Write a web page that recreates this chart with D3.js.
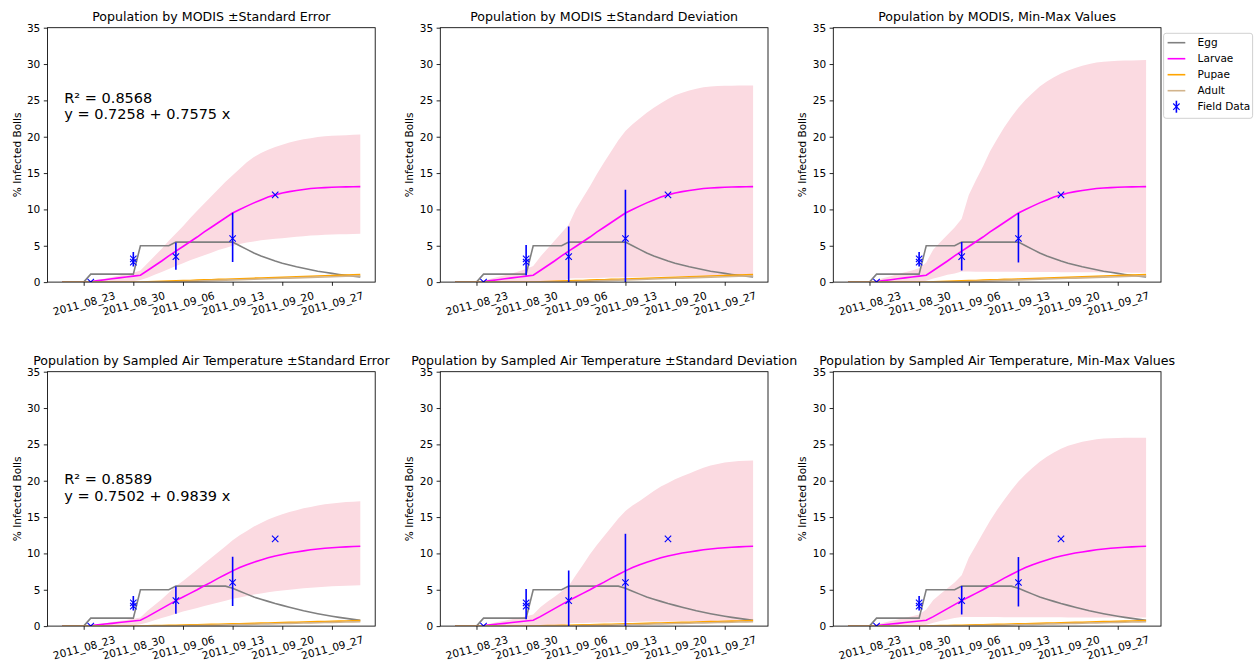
<!DOCTYPE html>
<html lang="en">
<head>
  <meta charset="UTF-8">
  <title>Population by MODIS / Sampled Air Temperature</title>
  <style>
    body {
      margin: 0;
      background: #fff;
      font-family: 'DejaVu Sans', sans-serif;
    }
    svg { display: block; }
    .tick text { fill: #000; }
  </style>
  <script src="https://d3js.org/d3.v7.min.js"></script>
</head>
<body>
  <svg></svg>

  <script>
    // one model value per day, 2011-08-20 .. 2011-10-01
    const startDay = "2011-08-20";
    const endDay = "2011-10-01";

    const tickDates = ["2011-08-23", "2011-08-30", "2011-09-06", "2011-09-13", "2011-09-20", "2011-09-27"];
    const tickLabels = ["2011_08_23", "2011_08_30", "2011_09_06", "2011_09_13", "2011_09_20", "2011_09_27"];
    const yTicks = [0, 5, 10, 15, 20, 25, 30, 35];

    // MODIS driven model
    const eggModis = [0, 0, 0, 0, 1.1, 1.1, 1.1, 1.1, 1.1, 1.1, 1.1, 5.0, 5.0, 5.0, 5.0, 5.0, 5.5, 5.5, 5.5, 5.5, 5.5, 5.5, 5.5, 5.5, 5.5,
      5.0, 4.5, 4.0, 3.6, 3.25, 2.9, 2.6, 2.35, 2.1, 1.9, 1.7, 1.5, 1.35, 1.2, 1.05, 0.92, 0.8, 0.7];
    const larvaeModis = [0, 0, 0, 0.02, 0.08, 0.2, 0.32, 0.45, 0.58, 0.7, 0.82, 0.95, 1.6, 2.25, 2.9, 3.6, 4.25, 4.9, 5.55, 6.2, 6.9,
      7.55, 8.2, 8.85, 9.5, 10.0, 10.45, 10.9, 11.3, 11.7, 12.0, 12.25, 12.45, 12.6, 12.75, 12.87, 12.95, 13.0, 13.05, 13.08, 13.1, 13.12, 13.13];
    const pupaeModis = [0, 0, 0, 0, 0, 0, 0, 0, 0, 0, 0, 0.02, 0.05, 0.08, 0.11, 0.14, 0.17, 0.2, 0.23, 0.27, 0.3,
      0.33, 0.37, 0.4, 0.43, 0.47, 0.5, 0.54, 0.57, 0.6, 0.64, 0.67, 0.71, 0.74, 0.77, 0.8, 0.84, 0.87, 0.9, 0.94, 0.97, 1.0, 1.03];
    const adultModis = [0, 0, 0, 0, 0, 0, 0, 0, 0, 0, 0, 0, 0, 0, 0, 0.02, 0.05, 0.08, 0.11, 0.14, 0.17,
      0.2, 0.24, 0.27, 0.3, 0.33, 0.36, 0.4, 0.43, 0.46, 0.49, 0.52, 0.55, 0.58, 0.62, 0.65, 0.68, 0.71, 0.74, 0.77, 0.8, 0.83, 0.86];

    const seUpperModis = [0, 0, 0, 0.03, 0.12, 0.3, 0.5, 0.7, 0.9, 1.1, 1.3, 1.6, 2.6, 3.6, 4.6, 5.7, 6.7, 7.7, 8.8, 9.8, 10.8,
      11.8, 12.8, 13.8, 14.7, 15.6, 16.5, 17.2, 17.75, 18.2, 18.6, 18.9, 19.2, 19.45, 19.65, 19.8, 19.95, 20.05, 20.12, 20.18, 20.22, 20.26, 20.3];
    const seLowerModis = [0, 0, 0, 0, 0, 0, 0, 0, 0, 0, 0.1, 0.3, 0.6, 1.0, 1.4, 1.8, 2.2, 2.6, 3.0, 3.35, 3.7,
      4.05, 4.4, 4.7, 5.0, 5.25, 5.45, 5.6, 5.75, 5.85, 5.95, 6.05, 6.15, 6.25, 6.3, 6.4, 6.45, 6.5, 6.55, 6.58, 6.6, 6.62, 6.64];
    const sdUpperModis = [0, 0, 0, 0.05, 0.2, 0.45, 0.7, 0.95, 1.2, 1.5, 1.8, 2.2, 3.5, 4.6, 5.7, 6.8, 7.9, 10.0, 11.6, 13.2, 14.9,
      16.5, 18.0, 19.5, 20.8, 21.7, 22.5, 23.3, 24.0, 24.6, 25.2, 25.7, 26.05, 26.35, 26.6, 26.8, 26.9, 26.97, 27.0, 27.02, 27.04, 27.05, 27.05];
    const sdLowerModis = [0, 0, 0, 0, 0, 0, 0, 0, 0, 0, 0, 0, 0, 0, 0, 0, 0.5, 0.52, 0.54, 0.56, 0.58,
      0.6, 0.62, 0.64, 0.66, 0.68, 0.7, 0.72, 0.74, 0.76, 0.78, 0.8, 0.82, 0.84, 0.86, 0.87, 0.88, 0.89, 0.9, 0.91, 0.92, 0.93, 0.94];
    const mmUpperModis = [0, 0, 0, 0.05, 0.3, 0.55, 0.8, 1.1, 1.35, 1.6, 1.9, 2.7, 4.5, 5.5, 6.5, 7.5, 8.7, 12.0, 14.0, 15.9, 18.0,
      19.7, 21.3, 22.7, 24.0, 25.1, 26.0, 26.9, 27.6, 28.2, 28.7, 29.1, 29.45, 29.75, 30.0, 30.2, 30.3, 30.4, 30.45, 30.5, 30.5, 30.52, 30.55];
    const mmLowerModis = [0, 0, 0, 0, 0, 0, 0, 0, 0, 0, 0, 0.2, 0.5, 0.75, 1.0, 1.2, 1.45, 1.45, 1.44, 1.44, 1.43,
      1.43, 1.42, 1.42, 1.41, 1.4, 1.4, 1.39, 1.38, 1.38, 1.37, 1.36, 1.36, 1.35, 1.34, 1.34, 1.33, 1.32, 1.32, 1.31, 1.3, 1.3, 1.3];

    // sampled air temperature driven model
    const eggAir = [0, 0, 0, 0, 1.1, 1.1, 1.1, 1.1, 1.1, 1.1, 1.1, 5.0, 5.0, 5.0, 5.0, 5.0, 5.5, 5.5, 5.5, 5.5, 5.5, 5.5, 5.5, 5.5,
      5.2, 4.8, 4.4, 4.0, 3.7, 3.4, 3.1, 2.85, 2.6, 2.35, 2.1, 1.9, 1.7, 1.52, 1.36, 1.2, 1.06, 0.92, 0.8];
    const larvaeAir = [0, 0, 0, 0.02, 0.07, 0.17, 0.28, 0.38, 0.5, 0.6, 0.7, 0.8, 1.3, 1.85, 2.4, 2.95, 3.5, 4.0, 4.5, 5.0, 5.55,
      6.05, 6.6, 7.1, 7.6, 8.05, 8.45, 8.8, 9.1, 9.4, 9.65, 9.85, 10.05, 10.2, 10.35, 10.5, 10.6, 10.7, 10.78, 10.85, 10.9, 10.95, 10.98];
    const pupaeAir = [0, 0, 0, 0, 0, 0, 0, 0, 0, 0, 0, 0.02, 0.04, 0.06, 0.08, 0.1, 0.12, 0.14, 0.17, 0.19, 0.21,
      0.24, 0.26, 0.28, 0.31, 0.33, 0.36, 0.38, 0.41, 0.43, 0.46, 0.48, 0.51, 0.53, 0.56, 0.58, 0.61, 0.63, 0.66, 0.68, 0.71, 0.73, 0.76];
    const adultAir = [0, 0, 0, 0, 0, 0, 0, 0, 0, 0, 0, 0, 0, 0, 0, 0, 0.02, 0.04, 0.06, 0.08, 0.1,
      0.12, 0.14, 0.17, 0.19, 0.21, 0.23, 0.26, 0.28, 0.3, 0.32, 0.35, 0.37, 0.39, 0.42, 0.44, 0.46, 0.49, 0.51, 0.53, 0.56, 0.58, 0.6];

    const seUpperAir = [0, 0, 0, 0.03, 0.1, 0.25, 0.4, 0.55, 0.7, 0.85, 1.0, 1.2, 2.1, 2.9, 3.7, 4.6, 5.5, 6.2, 7.0, 7.8, 8.6,
      9.4, 10.2, 11.0, 11.8, 12.5, 13.1, 13.7, 14.2, 14.65, 15.05, 15.4, 15.7, 15.95, 16.2, 16.4, 16.6, 16.75, 16.88, 16.98, 17.06, 17.12, 17.17];
    const seLowerAir = [0, 0, 0, 0, 0, 0, 0, 0, 0, 0, 0.1, 0.25, 0.5, 0.8, 1.1, 1.4, 1.7, 2.0, 2.25, 2.5, 2.75,
      3.0, 3.25, 3.5, 3.75, 3.95, 4.15, 4.35, 4.5, 4.65, 4.8, 4.9, 5.0, 5.1, 5.2, 5.28, 5.35, 5.42, 5.48, 5.52, 5.56, 5.6, 5.63];
    const sdUpperAir = [0, 0, 0, 0.03, 0.15, 0.35, 0.55, 0.75, 0.95, 1.15, 1.35, 1.6, 2.6, 3.35, 4.05, 4.75, 5.5, 7.0, 8.4, 9.9, 11.2,
      12.4, 13.6, 14.8, 15.85, 16.6, 17.2, 17.9, 18.6, 19.2, 19.7, 20.2, 20.6, 21.0, 21.4, 21.8, 22.1, 22.3, 22.5, 22.6, 22.7, 22.75, 22.8];
    const sdLowerAir = [0, 0, 0, 0, 0, 0, 0, 0, 0, 0, 0, 0, 0, 0, 0, 0, 0.4, 0.42, 0.44, 0.46, 0.48,
      0.5, 0.52, 0.54, 0.56, 0.58, 0.6, 0.62, 0.63, 0.64, 0.65, 0.66, 0.67, 0.68, 0.69, 0.7, 0.71, 0.72, 0.73, 0.74, 0.74, 0.75, 0.75];
    const mmUpperAir = [0, 0, 0, 0.04, 0.25, 0.45, 0.7, 0.9, 1.15, 1.35, 1.6, 2.3, 3.6, 4.4, 5.2, 6.0, 7.0, 9.4, 11.1, 12.8, 14.5,
      16.0, 17.4, 18.7, 19.9, 20.9, 21.8, 22.6, 23.3, 23.9, 24.4, 24.8, 25.1, 25.35, 25.55, 25.7, 25.8, 25.85, 25.88, 25.9, 25.9, 25.92, 25.93];
    const mmLowerAir = [0, 0, 0, 0, 0, 0, 0, 0, 0, 0, 0, 0.2, 0.45, 0.7, 0.9, 1.1, 1.25, 1.25, 1.25, 1.24, 1.24,
      1.24, 1.23, 1.23, 1.23, 1.22, 1.22, 1.22, 1.21, 1.21, 1.21, 1.2, 1.2, 1.2, 1.19, 1.19, 1.19, 1.18, 1.18, 1.18, 1.17, 1.17, 1.17];

    // field observations
    const fieldDates = ["2011-08-24", "2011-08-30", "2011-08-30", "2011-09-05", "2011-09-13", "2011-09-19"];
    const fieldValues = [0, 3.2, 2.75, 3.5, 6.0, 12.0];
    const errDates = ["2011-08-30", "2011-09-05", "2011-09-13"];
    const seLow = [2.15, 1.7, 2.75], seHigh = [4.15, 5.45, 9.55];
    const sdLow = [0.95, -0.6, -0.6], sdHigh = [5.1, 7.65, 12.7];
    const mmLow = [2.15, 1.6, 2.7], mmHigh = [4.15, 5.5, 9.5];

    const fitModis = ["R\u00b2 = 0.8568", "y = 0.7258 + 0.7575 x"];
    const fitAir = ["R\u00b2 = 0.8589", "y = 0.7502 + 0.9839 x"];

    const seriesNames = ["Egg", "Larvae", "Pupae", "Adult"];
    const seriesColors = ["#808080", "#ff00ff", "#ffa500", "#d2b48c"];

    const width = 1254, height = 663;
    const svg = d3.select("svg").attr("width", width).attr("height", height);

    const parse = d3.timeParse("%Y-%m-%d");
    const days = d3.timeDay.range(parse(startDay), d3.timeDay.offset(parse(endDay), 1));

    const panels = [
      { title: "Population by MODIS \u00b1Standard Error", series: [eggModis, larvaeModis, pupaeModis, adultModis],
        lower: seLowerModis, upper: seUpperModis, low: seLow, high: seHigh, fit: fitModis, fitAt: 24.7 },
      { title: "Population by MODIS \u00b1Standard Deviation", series: [eggModis, larvaeModis, pupaeModis, adultModis],
        lower: sdLowerModis, upper: sdUpperModis, low: sdLow, high: sdHigh },
      { title: "Population by MODIS, Min-Max Values", series: [eggModis, larvaeModis, pupaeModis, adultModis],
        lower: mmLowerModis, upper: mmUpperModis, low: mmLow, high: mmHigh, legend: true },
      { title: "Population by Sampled Air Temperature \u00b1Standard Error", series: [eggAir, larvaeAir, pupaeAir, adultAir],
        lower: seLowerAir, upper: seUpperAir, low: seLow, high: seHigh, fit: fitAir, fitAt: 19.5 },
      { title: "Population by Sampled Air Temperature \u00b1Standard Deviation", series: [eggAir, larvaeAir, pupaeAir, adultAir],
        lower: sdLowerAir, upper: sdUpperAir, low: sdLow, high: sdHigh },
      { title: "Population by Sampled Air Temperature, Min-Max Values", series: [eggAir, larvaeAir, pupaeAir, adultAir],
        lower: mmLowerAir, upper: mmUpperAir, low: mmLow, high: mmHigh }
    ];

    const colLeft = [47.5, 440.3, 833.3];
    const rowTop = [27.7, 371.7];
    const w = 327.7, h = 254.4;

    const pad = 2.1 * 864e5; // matplotlib 5% x-margin
    const x = d3.scaleTime()
      .domain([new Date(+days[0] - pad), new Date(+days[days.length - 1] + pad)])
      .range([0, w]);
    const y = d3.scaleLinear().domain([0, 35]).range([h, 0]);

    const xMark = "M-3.2,-3.2L3.2,3.2M-3.2,3.2L3.2,-3.2";

    panels.forEach((p, i) => {
      const g = svg.append("g")
        .attr("transform", `translate(${colLeft[i % 3]},${rowTop[Math.floor(i / 3)]})`);

      const clipId = "clip" + i;
      g.append("clipPath").attr("id", clipId)
        .append("rect").attr("width", w).attr("height", h);

      const plot = g.append("g").attr("clip-path", `url(#${clipId})`);

      // spread band
      const area = d3.area()
        .x((d, j) => x(days[j]))
        .y0((d, j) => y(p.lower[j]))
        .y1(d => y(d));
      plot.append("path")
        .attr("d", area(p.upper))
        .attr("fill", "#fbdae1");

      // model lines
      p.series.forEach((vals, k) => {
        const line = d3.line().x((d, j) => x(days[j])).y(d => y(d));
        plot.append("path")
          .attr("d", line(vals))
          .attr("fill", "none")
          .attr("stroke", seriesColors[k])
          .attr("stroke-width", 1.6);
      });

      // error bars
      errDates.forEach((dt, j) => {
        plot.append("line")
          .attr("x1", x(parse(dt))).attr("x2", x(parse(dt)))
          .attr("y1", y(p.low[j])).attr("y2", y(p.high[j]))
          .attr("stroke", "#0000ff")
          .attr("stroke-width", 1.6);
      });

      // field points
      plot.selectAll(".field")
        .data(fieldValues)
        .join("path")
        .attr("class", "field")
        .attr("d", xMark)
        .attr("transform", (d, j) => `translate(${x(parse(fieldDates[j]))},${y(d)})`)
        .attr("fill", "none")
        .attr("stroke", "#0000ff")
        .attr("stroke-width", 1.1);

      // axes
      const yAxis = g.append("g")
        .call(d3.axisLeft(y).tickValues(yTicks).tickSize(3.7).tickPadding(3.5));
      const xAxis = g.append("g")
        .attr("transform", `translate(0,${h})`)
        .call(d3.axisBottom(x).tickValues(tickDates.map(parse))
          .tickFormat((d, j) => tickLabels[j]).tickSize(3.7));
      [xAxis, yAxis].forEach(a => {
        a.select(".domain").remove();
        a.attr("font-family", "'DejaVu Sans', sans-serif").attr("font-size", 10.5);
        a.selectAll(".tick line").attr("stroke", "#000").attr("stroke-width", 0.85);
      });
      xAxis.selectAll(".tick text")
        .attr("y", 0)
        .attr("dy", "0.35em")
        .attr("transform", "translate(0,21.5) rotate(-15)");

      g.append("rect")
        .attr("width", w).attr("height", h)
        .attr("fill", "none")
        .attr("stroke", "#000")
        .attr("stroke-width", 0.85);

      g.append("text")
        .attr("x", w / 2).attr("y", -7)
        .attr("text-anchor", "middle")
        .attr("font-size", 12.6)
        .text(p.title);

      g.append("text")
        .attr("transform", `translate(-27,${h / 2}) rotate(-90)`)
        .attr("text-anchor", "middle")
        .attr("font-size", 10.5)
        .text("% Infected Bolls");

      if (p.fit) {
        const t = g.append("text")
          .attr("x", 16.8)
          .attr("y", y(p.fitAt))
          .attr("font-size", 14.5);
        p.fit.forEach((s, j) => {
          t.append("tspan").attr("x", 16.8).attr("dy", j ? 16.7 : 0).text(s);
        });
      }

      if (p.legend) {
        const lg = g.append("g").attr("transform", `translate(${w + 2.6},5.6)`);
        lg.append("rect")
          .attr("width", 89).attr("height", 85)
          .attr("rx", 2.5)
          .attr("fill", "#fff")
          .attr("stroke", "#cccccc")
          .attr("stroke-width", 0.9);
        seriesNames.concat(["Field Data"]).forEach((name, k) => {
          const row = lg.append("g").attr("transform", `translate(0,${9.4 + k * 16})`);
          if (k < 4) {
            row.append("line")
              .attr("x1", 4).attr("x2", 21.7)
              .attr("stroke", seriesColors[k])
              .attr("stroke-width", 1.6);
          } else {
            row.append("line")
              .attr("x1", 12.8).attr("x2", 12.8).attr("y1", -6).attr("y2", 6)
              .attr("stroke", "#0000ff").attr("stroke-width", 1.6);
            row.append("path").attr("d", xMark)
              .attr("transform", "translate(12.8,0)")
              .attr("fill", "none").attr("stroke", "#0000ff").attr("stroke-width", 1.1);
          }
          row.append("text")
            .attr("x", 34).attr("dy", "0.35em")
            .attr("font-size", 10.5)
            .text(name);
        });
      }
    });
  </script>
</body>
</html>
